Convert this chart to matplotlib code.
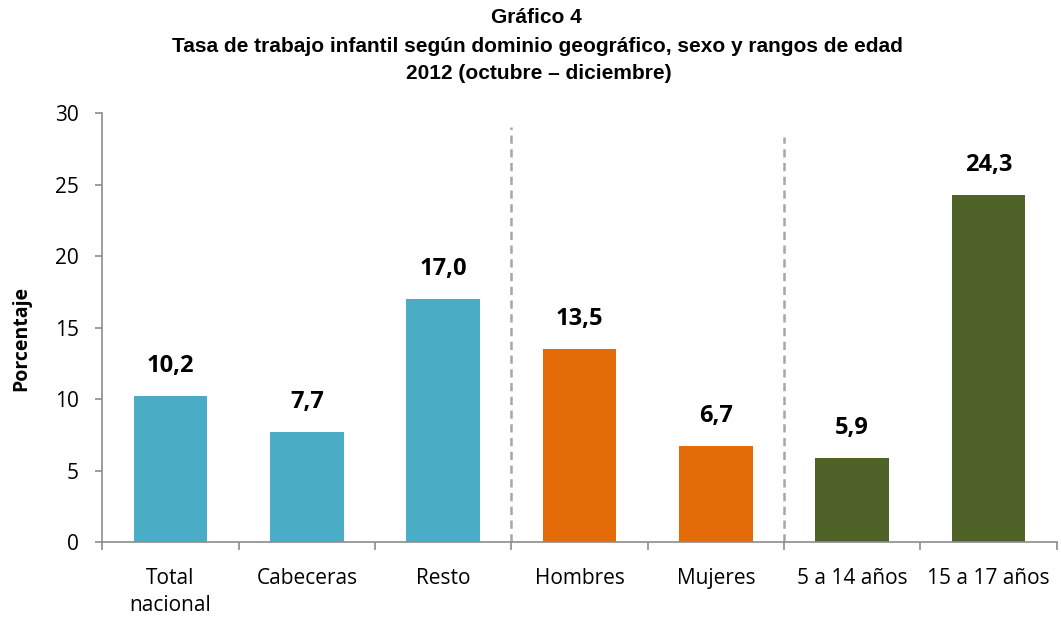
import numpy as np
import matplotlib.pyplot as plt

categorias = ['Total\nnacional', 'Cabeceras', 'Resto', 'Hombres', 'Mujeres',
              '5 a 14 años', '15 a 17 años']
valores = [10.2, 7.7, 17.0, 13.5, 6.7, 5.9, 24.3]
colores = ['#4BACC6', '#4BACC6', '#4BACC6', '#E36C09', '#E36C09', '#4F6228', '#4F6228']
separadores = [2.5, 4.5]
sep_top = [29.0, 28.3]

fig = plt.figure(figsize=(10.61, 6.19), dpi=100)
ax = fig.add_axes([0.0965, 0.1244, 0.8995, 0.693])

x = np.arange(len(categorias))
ax.bar(x, valores, width=0.54, color=colores, zorder=2)

for xi, v in zip(x, valores):
    ax.text(xi, v + 1.25, f'{v:.1f}'.replace('.', ','), ha='center', va='bottom',
            fontsize=17, fontweight='bold', family='Open Sans')

for s, t in zip(separadores, sep_top):
    ax.plot([s, s], [0, t], color='#A6A6A6', lw=1.8, ls=(0, (3.3, 2.2)), zorder=1)

ax.set_xlim(-0.5, len(categorias) - 0.5)
ax.set_ylim(0, 30)
ax.set_yticks(range(0, 31, 5))
ax.set_xticks(x)
ax.set_xticklabels(categorias, fontsize=15, family='Open Sans', linespacing=1.35)
ax.set_xticks(np.arange(-0.5, len(categorias), 1), minor=True)
ax.tick_params(axis='x', which='major', length=0, pad=19)
ax.tick_params(axis='x', which='minor', length=6, width=1.2, color='#8C8C8C')
ax.tick_params(axis='y', length=5, width=1.2, color='#8C8C8C', labelsize=15, pad=12)
for lab in ax.get_yticklabels():
    lab.set_family('Open Sans')

for sp in ['top', 'right']:
    ax.spines[sp].set_visible(False)
for sp in ['left', 'bottom']:
    ax.spines[sp].set_color('#8C8C8C')
    ax.spines[sp].set_linewidth(1.2)

ax.set_ylabel('Porcentaje', fontsize=14, fontweight='bold', family='Open Sans')
ax.yaxis.set_label_coords(-0.0744, 0.474)

fig.text(0.506, 0.971, 'Gráfico 4', ha='center', va='center', fontsize=15,
         fontweight='bold', family='Liberation Sans')
fig.text(0.507, 0.925, 'Tasa de trabajo infantil según dominio geográfico, sexo y rangos de edad',
         ha='center', va='center', fontsize=15, fontweight='bold', family='Liberation Sans')
fig.text(0.508, 0.881, '2012 (octubre – diciembre)', ha='center', va='center', fontsize=15,
         fontweight='bold', family='Liberation Sans')

fig.savefig('out.png', dpi=100)
